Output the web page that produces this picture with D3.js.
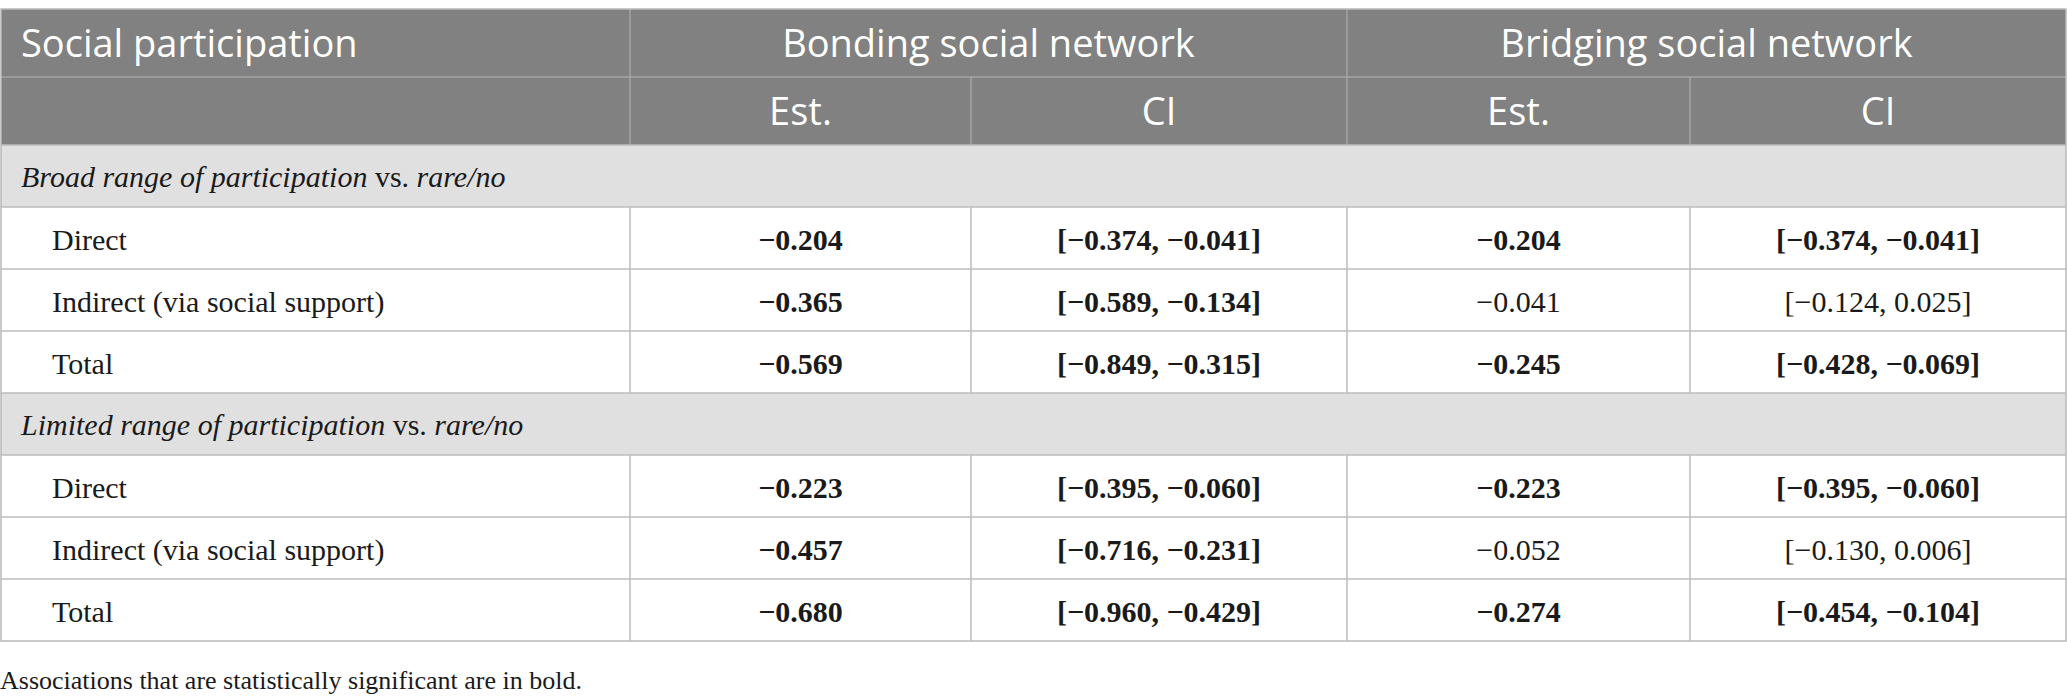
<!DOCTYPE html>
<html>
<head>
<meta charset="utf-8">
<script src="https://cdn.jsdelivr.net/npm/d3@7"></script>
<style>
  body { margin: 0; background: #fff; }
  svg text { font-kerning: normal; }
</style>
</head>
<body>
<div id="chart"></div>
<script>
// Mediation table: social participation -> social network, drawn as svg
var width = 2067,
    height = 697;

var groups = ["Broad range of participation", "Limited range of participation"];
var groupSuffix = ["vs.", "rare/no"];
var effects = ["Direct", "Indirect (via social support)", "Total"];
var networks = ["Bonding social network", "Bridging social network"];
var stats = ["Est.", "CI"];

// one inner array per group, in effect order
var bondingEst  = [[-0.204, -0.365, -0.569], [-0.223, -0.457, -0.680]];
var bondingLow  = [[-0.374, -0.589, -0.849], [-0.395, -0.716, -0.960]];
var bondingHigh = [[-0.041, -0.134, -0.315], [-0.060, -0.231, -0.429]];
var bondingSig  = [[true, true, true], [true, true, true]];
var bridgingEst  = [[-0.204, -0.041, -0.245], [-0.223, -0.052, -0.274]];
var bridgingLow  = [[-0.374, -0.124, -0.428], [-0.395, -0.130, -0.454]];
var bridgingHigh = [[-0.041, 0.025, -0.069], [-0.060, 0.006, -0.104]];
var bridgingSig  = [[true, false, true], [true, false, true]];

var footnote = "Associations that are statistically significant are in bold.";

// column edges and row edges (piecewise scales over index)
var x = d3.scaleLinear()
    .domain([0, 1, 2, 3, 4, 5])
    .range([1, 630, 971, 1347, 1690, 2066]);
var y = d3.scaleLinear()
    .domain([0, 1, 2, 3, 4, 5, 6, 7, 8, 9, 10])
    .range([9, 77, 145, 207, 269, 331, 393, 455, 517, 579, 641]);

var fmt = d3.format(".3f");   // d3 gives the proper minus sign
function ci(lo, hi) { return "[" + fmt(lo) + ", " + fmt(hi) + "]"; }

var sansFont = "'Open Sans', 'Noto Sans', sans-serif";
var serifFont = "'Liberation Serif', 'DejaVu Serif', serif";

var svg = d3.select("#chart").append("svg")
    .attr("width", width)
    .attr("height", height);

// build the row list
var rows = [];
groups.forEach(function(g, gi) {
  rows.push({type: "group", gi: gi});
  effects.forEach(function(e, ei) {
    rows.push({type: "body", gi: gi, ei: ei});
  });
});
rows.forEach(function(r, i) { r.index = i + 2; });

// backgrounds
svg.append("rect")
    .attr("x", x(0)).attr("y", y(0))
    .attr("width", x(5) - x(0)).attr("height", y(2) - y(0))
    .attr("fill", "#808180");

svg.selectAll("rect.group")
  .data(rows.filter(function(r) { return r.type == "group"; }))
  .enter().append("rect")
    .attr("class", "group")
    .attr("x", x(0)).attr("y", function(r) { return y(r.index); })
    .attr("width", x(5) - x(0))
    .attr("height", function(r) { return y(r.index + 1) - y(r.index); })
    .attr("fill", "#e1e0e1");

// header grid lines
var headLine = "#a4a5a4";
svg.append("line")
    .attr("x1", x(0)).attr("x2", x(5)).attr("y1", y(1)).attr("y2", y(1))
    .attr("stroke", headLine).attr("stroke-width", 1.5);
[1, 3].forEach(function(c) {
  svg.append("line")
      .attr("x1", x(c)).attr("x2", x(c)).attr("y1", y(0)).attr("y2", y(1))
      .attr("stroke", headLine).attr("stroke-width", 1.5);
});
[1, 2, 3, 4].forEach(function(c) {
  svg.append("line")
      .attr("x1", x(c)).attr("x2", x(c)).attr("y1", y(1)).attr("y2", y(2))
      .attr("stroke", headLine).attr("stroke-width", 1.5);
});

// body grid lines
var gridLine = "#bdbdbd";
d3.range(2, 10).forEach(function(i) {
  svg.append("line")
      .attr("x1", x(0)).attr("x2", x(5)).attr("y1", y(i)).attr("y2", y(i))
      .attr("stroke", gridLine).attr("stroke-width", 1.5);
});
rows.filter(function(r) { return r.type == "body"; }).forEach(function(r) {
  [1, 2, 3, 4].forEach(function(c) {
    svg.append("line")
        .attr("x1", x(c)).attr("x2", x(c))
        .attr("y1", y(r.index)).attr("y2", y(r.index + 1))
        .attr("stroke", gridLine).attr("stroke-width", 1.5);
  });
});

// outer border
svg.append("rect")
    .attr("x", x(0)).attr("y", y(0))
    .attr("width", x(5) - x(0)).attr("height", y(10) - y(0))
    .attr("fill", "none")
    .attr("stroke", "#b9b9b9").attr("stroke-width", 1.5);

// header texts
function mid(a, b) { return (a + b) / 2; }
var head = svg.append("g")
    .attr("font-family", sansFont)
    .attr("font-weight", 400)
    .attr("font-size", 38)
    .attr("fill", "#ffffff");

head.append("text")
    .attr("x", 21).attr("y", mid(y(0), y(1)))
    .attr("dy", "0.36em")
    .text("Social participation");

networks.forEach(function(n, ni) {
  head.append("text")
      .attr("x", mid(x(1 + ni * 2), x(3 + ni * 2)))
      .attr("y", mid(y(0), y(1)))
      .attr("dy", "0.36em")
      .attr("text-anchor", "middle")
      .text(n);
  stats.forEach(function(s, si) {
    head.append("text")
        .attr("x", mid(x(1 + ni * 2 + si), x(2 + ni * 2 + si)))
        .attr("y", mid(y(1), y(2)))
        .attr("dy", "0.36em")
        .attr("text-anchor", "middle")
        .text(s);
  });
});

// body texts
var body = svg.append("g")
    .attr("font-family", serifFont)
    .attr("font-size", 30)
    .attr("fill", "#1a1a1a");

rows.forEach(function(r) {
  var cy = mid(y(r.index), y(r.index + 1));
  if (r.type == "group") {
    var t = body.append("text")
        .attr("x", 21).attr("y", cy).attr("dy", "0.38em");
    t.append("tspan").attr("font-style", "italic").text(groups[r.gi]);
    t.append("tspan").text(" " + groupSuffix[0] + " ");
    t.append("tspan").attr("font-style", "italic").text(groupSuffix[1]);
    return;
  }
  body.append("text")
      .attr("x", 52).attr("y", cy).attr("dy", "0.4em")
      .text(effects[r.ei]);

  var cells = [
    {v: fmt(bondingEst[r.gi][r.ei]), b: bondingSig[r.gi][r.ei]},
    {v: ci(bondingLow[r.gi][r.ei], bondingHigh[r.gi][r.ei]), b: bondingSig[r.gi][r.ei]},
    {v: fmt(bridgingEst[r.gi][r.ei]), b: bridgingSig[r.gi][r.ei]},
    {v: ci(bridgingLow[r.gi][r.ei], bridgingHigh[r.gi][r.ei]), b: bridgingSig[r.gi][r.ei]}
  ];
  cells.forEach(function(c, ci_) {
    body.append("text")
        .attr("x", mid(x(ci_ + 1), x(ci_ + 2)))
        .attr("y", cy).attr("dy", "0.4em")
        .attr("text-anchor", "middle")
        .attr("font-weight", c.b ? "bold" : "normal")
        .text(c.v);
  });
});

// footnote
svg.append("text")
    .attr("x", 0).attr("y", 681).attr("dy", "0.3em")
    .attr("font-family", serifFont)
    .attr("font-size", 26)
    .attr("fill", "#1a1a1a")
    .text(footnote);
</script>
</body>
</html>
